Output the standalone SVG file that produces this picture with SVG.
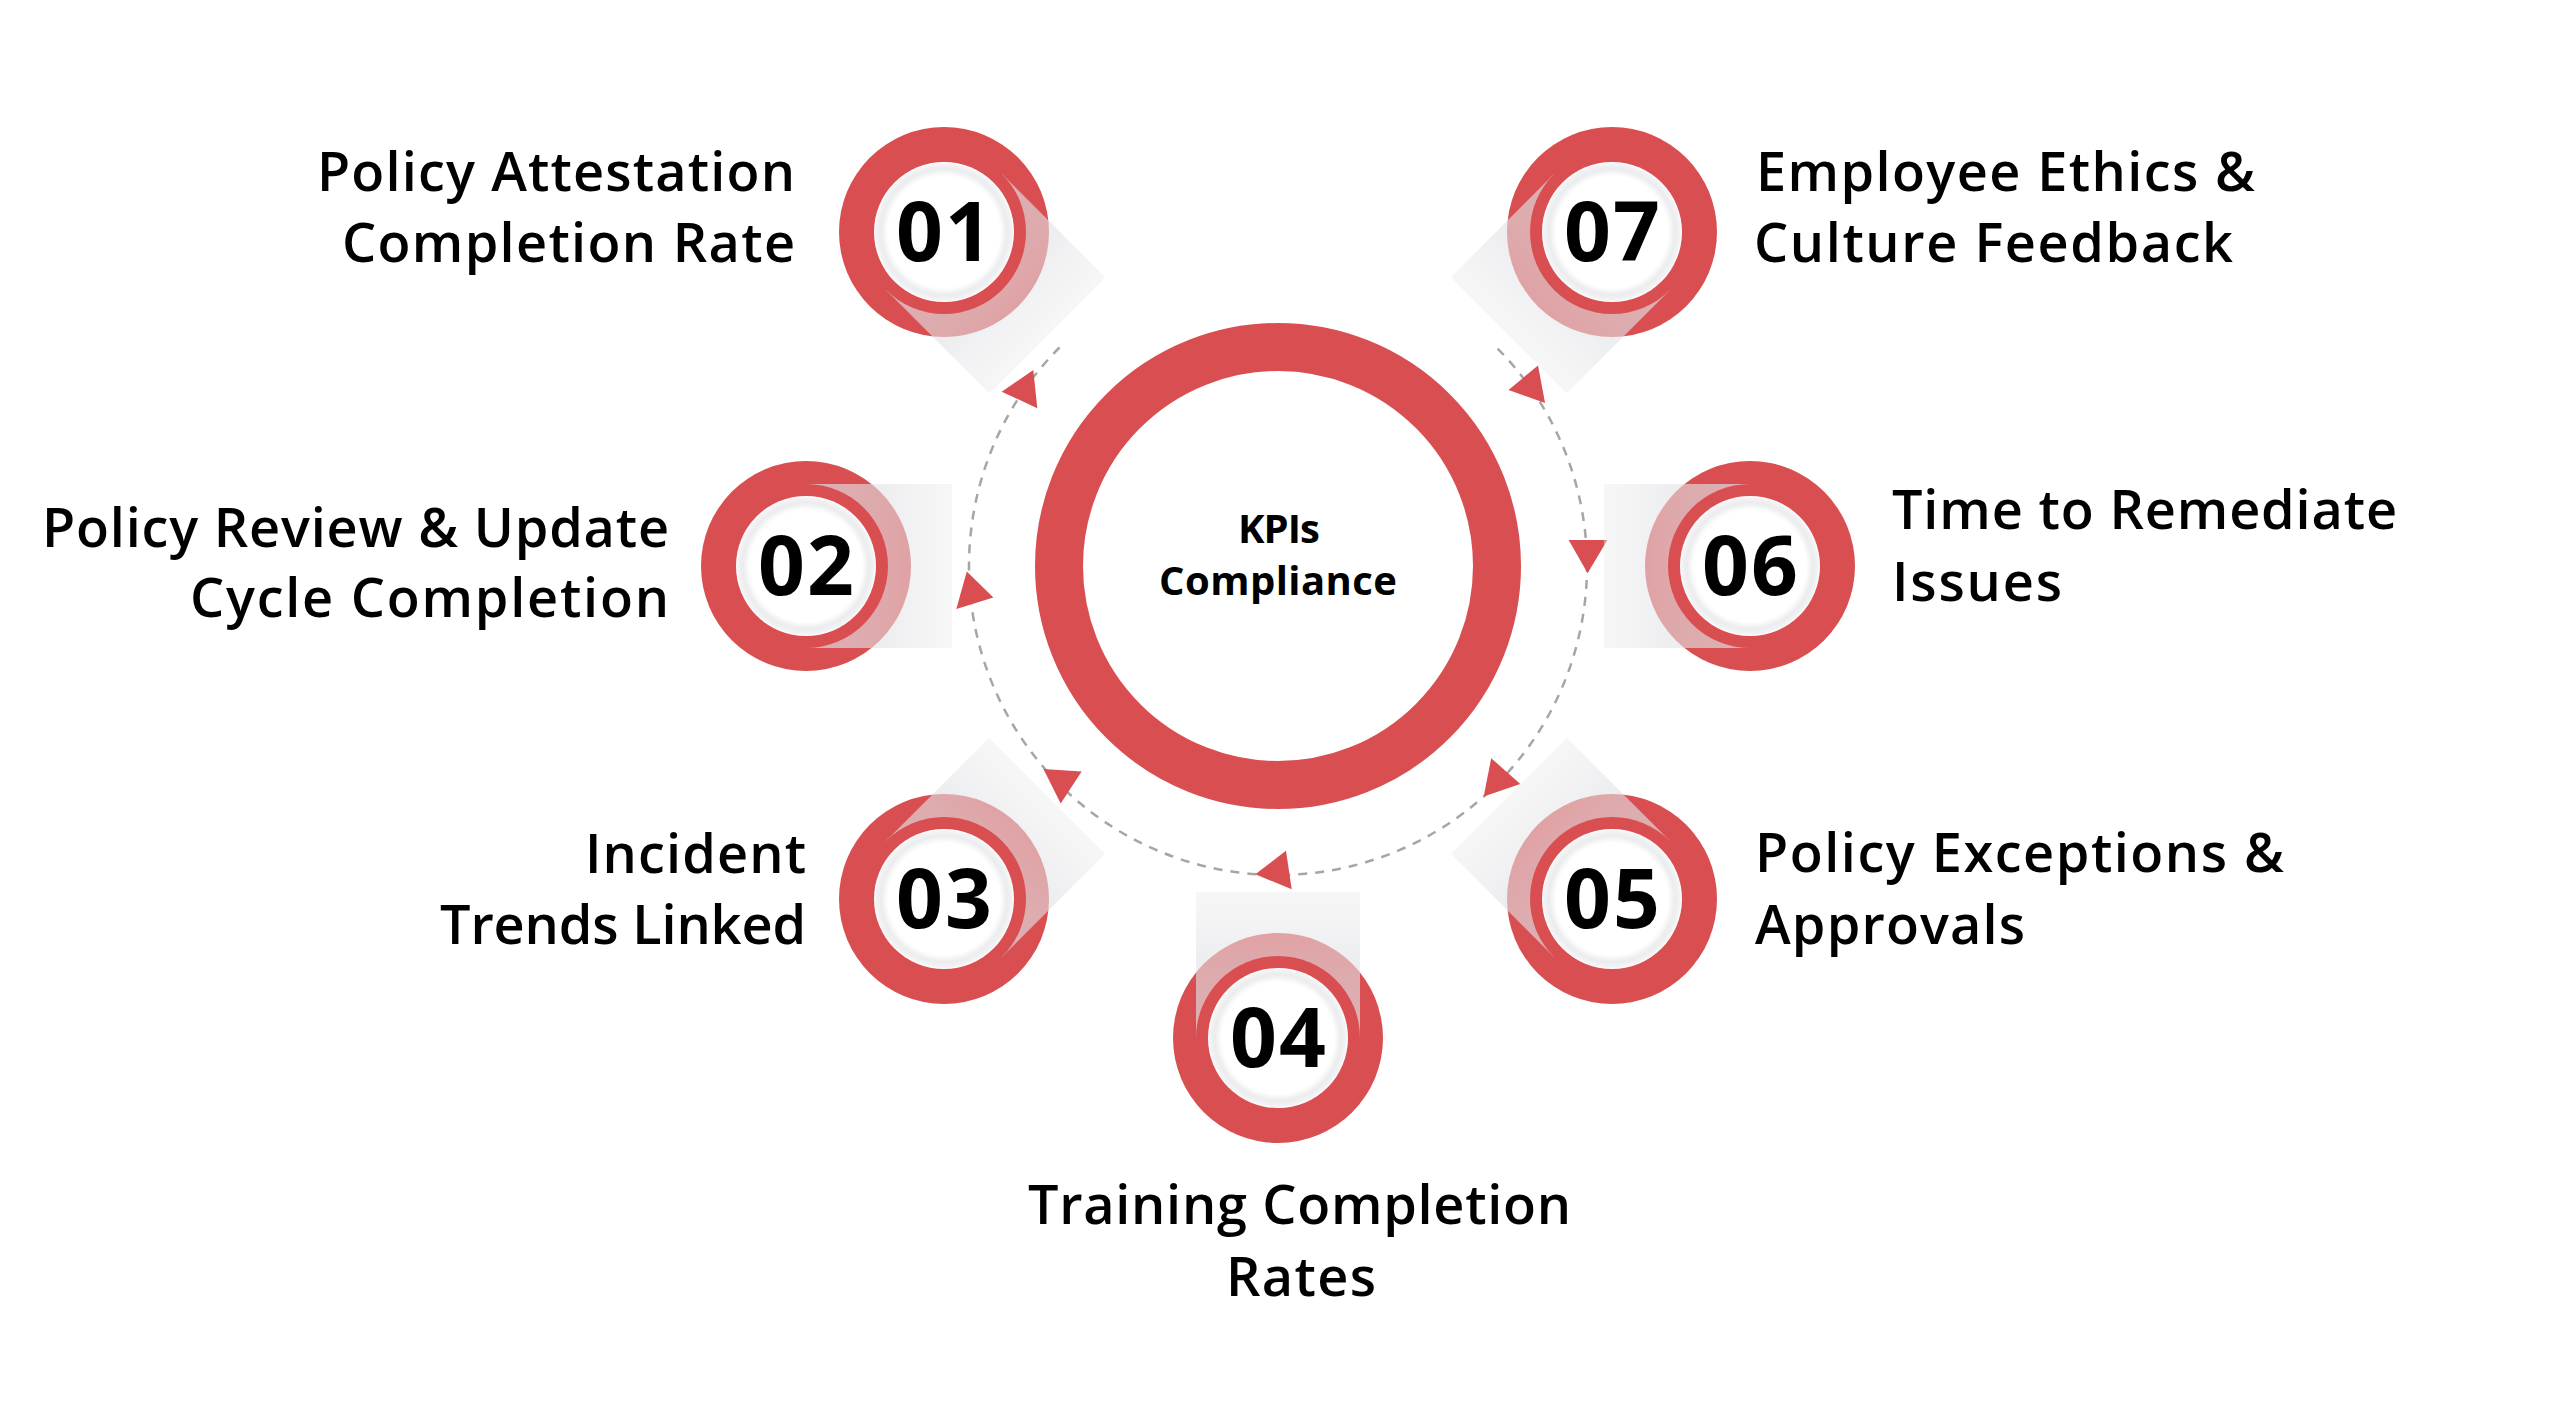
<svg xmlns="http://www.w3.org/2000/svg" xmlns:xlink="http://www.w3.org/1999/xlink" width="2560" height="1409" viewBox="0 0 2560 1409">
<style>
.red{fill:#d94f51}
.num{font-family:"Open Sans","Liberation Sans",sans-serif;font-weight:700;font-size:82px;letter-spacing:2px;fill:#000;text-anchor:middle}
.lbl{font-family:"Open Sans","Liberation Sans",sans-serif;font-weight:600;font-size:54px;fill:#000}
.ctr{font-family:"Open Sans","Liberation Sans",sans-serif;font-weight:700;font-size:40px;fill:#000;text-anchor:middle}
.dash{fill:none;stroke:#a6a6a6;stroke-width:2.5;stroke-dasharray:9 8}
</style>
<defs>
<linearGradient id="shg" x1="0" y1="0" x2="1" y2="0">
<stop offset="0" stop-color="#dcdde0" stop-opacity="0.7"/>
<stop offset="0.55" stop-color="#e2e3e6" stop-opacity="0.6"/>
<stop offset="1" stop-color="#ececee" stop-opacity="0.45"/>
</linearGradient>
<radialGradient id="wg" cx="0.5" cy="0.5" r="0.5">
<stop offset="0" stop-color="#ffffff"/>
<stop offset="0.8" stop-color="#ffffff"/>
<stop offset="0.9" stop-color="#ebecee"/>
<stop offset="0.97" stop-color="#f3f3f5"/>
<stop offset="1" stop-color="#ffffff"/>
</radialGradient>
<rect id="shadow" x="0" y="-82" width="146" height="164" fill="url(#shg)"/>
</defs>
<rect width="2560" height="1409" fill="#ffffff"/>

<g id="connectors">
<path class="dash" d="M 1059.5 347.5 A 309 309 0 1 0 1496.5 347.5"/>
<polygon class="red" points="1001.7,391.7 1033.3,370 1037.3,408.3"/>
<polygon class="red" points="966.8,571.4 993.4,597.5 956.3,608.9"/>
<polygon class="red" points="1043.4,768.9 1081.7,771.4 1060.7,803.6"/>
<polygon class="red" points="1286,850.7 1255.3,874.3 1291.7,889.3"/>
<polygon class="red" points="1491.2,758.2 1520.3,783.9 1483.7,796.4"/>
<polygon class="red" points="1568.7,540 1607.4,540 1587.6,573.2"/>
<polygon class="red" points="1538,365.4 1508.5,390 1545.1,402.9"/>
</g>

<g id="center">
<circle cx="1278" cy="566" r="219" fill="#ffffff" stroke="#d94f51" stroke-width="48"/>
<text class="ctr" x="1279" y="543" textLength="82">KPIs</text>
<text class="ctr" x="1278" y="595" textLength="238">Compliance</text>
</g>

<g id="node-01" transform="translate(944,232)">
<circle class="red" r="105"/>
<use href="#shadow" transform="rotate(45)"/>
<circle class="red" r="82"/>
<circle r="70" fill="url(#wg)"/>
<text class="num" x="1" y="29">01</text>
</g>
<g id="node-02" transform="translate(806,566)">
<circle class="red" r="105"/>
<use href="#shadow" transform="rotate(0)"/>
<circle class="red" r="82"/>
<circle r="70" fill="url(#wg)"/>
<text class="num" x="1" y="29">02</text>
</g>
<g id="node-03" transform="translate(944,899)">
<circle class="red" r="105"/>
<use href="#shadow" transform="rotate(-45)"/>
<circle class="red" r="82"/>
<circle r="70" fill="url(#wg)"/>
<text class="num" x="1" y="29">03</text>
</g>
<g id="node-04" transform="translate(1278,1038)">
<circle class="red" r="105"/>
<use href="#shadow" transform="rotate(-90)"/>
<circle class="red" r="82"/>
<circle r="70" fill="url(#wg)"/>
<text class="num" x="1" y="29">04</text>
</g>
<g id="node-05" transform="translate(1612,899)">
<circle class="red" r="105"/>
<use href="#shadow" transform="rotate(-135)"/>
<circle class="red" r="82"/>
<circle r="70" fill="url(#wg)"/>
<text class="num" x="1" y="29">05</text>
</g>
<g id="node-06" transform="translate(1750,566)">
<circle class="red" r="105"/>
<use href="#shadow" transform="rotate(180)"/>
<circle class="red" r="82"/>
<circle r="70" fill="url(#wg)"/>
<text class="num" x="1" y="29">06</text>
</g>
<g id="node-07" transform="translate(1612,232)">
<circle class="red" r="105"/>
<use href="#shadow" transform="rotate(135)"/>
<circle class="red" r="82"/>
<circle r="70" fill="url(#wg)"/>
<text class="num" x="1" y="29">07</text>
</g>

<g id="labels">
<text class="lbl" x="317" y="191" textLength="478">Policy Attestation</text>
<text class="lbl" x="342" y="262" textLength="453">Completion Rate</text>
<text class="lbl" x="42" y="547" textLength="627">Policy Review &amp; Update</text>
<text class="lbl" x="190" y="617" textLength="479">Cycle Completion</text>
<text class="lbl" x="585" y="873" textLength="221">Incident</text>
<text class="lbl" x="440" y="944" textLength="366">Trends Linked</text>
<text class="lbl" x="1028" y="1224" textLength="543">Training Completion</text>
<text class="lbl" x="1226" y="1296" textLength="150">Rates</text>
<text class="lbl" x="1755" y="872" textLength="529">Policy Exceptions &amp;</text>
<text class="lbl" x="1755" y="944" textLength="270">Approvals</text>
<text class="lbl" x="1892" y="529" textLength="505">Time to Remediate</text>
<text class="lbl" x="1892" y="601" textLength="170">Issues</text>
<text class="lbl" x="1756" y="191" textLength="499">Employee Ethics &amp;</text>
<text class="lbl" x="1754" y="262" textLength="479">Culture Feedback</text>
</g>
</svg>
